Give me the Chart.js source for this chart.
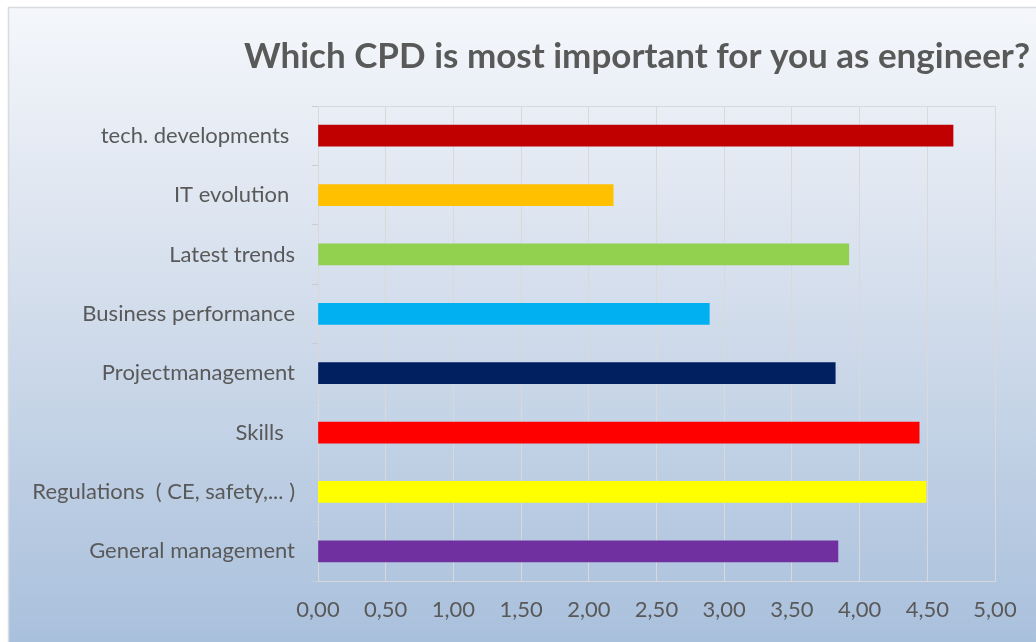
<!DOCTYPE html>
<html>
<head>
<meta charset="utf-8">
<script src="https://cdn.jsdelivr.net/npm/chart.js@4/dist/chart.umd.min.js"></script>
<style>
html,body{margin:0;padding:0;background:#ffffff;}
#wrap{position:relative;width:1036px;height:642px;}
</style>
</head>
<body>
<div id="wrap"><canvas id="c" width="1036" height="642"></canvas></div>
<script>
const titleText = "Which CPD is most important for you as engineer?";
const categories = [
  "tech. developments ",
  "IT evolution ",
  "Latest trends",
  "Business performance",
  "Projectmanagement",
  "Skills  ",
  "Regulations  ( CE, safety,... )",
  "General management"
];
const values = [4.69, 2.18, 3.92, 2.89, 3.82, 4.44, 4.49, 3.84];
const barColors = ["#C00000", "#FFC000", "#92D050", "#00B0F0", "#002060", "#FF0000", "#FFFF00", "#7030A0"];
const xTicks = ["0,00","0,50","1,00","1,50","2,00","2,50","3,00","3,50","4,00","4,50","5,00"];

const FONT = "Lato, 'Open Sans', sans-serif";
const TEXT = "#595959";

const bgPlugin = {
  id: 'bg',
  beforeDraw(chart) {
    const ctx = chart.ctx;
    ctx.save();
    ctx.fillStyle = '#ffffff';
    ctx.fillRect(0, 0, chart.width, chart.height);
    const g = ctx.createLinearGradient(0, 7, 0, chart.height);
    g.addColorStop(0, '#f5f7fb');
    g.addColorStop(0.45, '#d4deec');
    g.addColorStop(1, '#a9c0dc');
    ctx.fillStyle = g;
    ctx.fillRect(8, 7, chart.width - 8, chart.height - 7);
    ctx.strokeStyle = '#d8dbe0';
    ctx.lineWidth = 1.5;
    ctx.beginPath();
    ctx.moveTo(8.5, chart.height);
    ctx.lineTo(8.5, 7.5);
    ctx.lineTo(chart.width, 7.5);
    ctx.stroke();
    ctx.restore();
  },
  afterDraw(chart) {
    const ctx = chart.ctx;
    const a = chart.chartArea;
    ctx.save();
    ctx.strokeStyle = '#d9d9d9';
    ctx.lineWidth = 1;
    ctx.beginPath();
    ctx.moveTo(a.left, a.top + 0.5);
    ctx.lineTo(a.right, a.top + 0.5);
    ctx.stroke();
    ctx.fillStyle = TEXT;
    ctx.font = "bold 35px " + FONT;
    ctx.textAlign = 'right';
    ctx.textBaseline = 'middle';
    ctx.fillText(titleText, 1030, 57);
    ctx.restore();
  }
};

new Chart(document.getElementById('c'), {
  type: 'bar',
  data: {
    labels: categories,
    datasets: [{
      data: values,
      backgroundColor: barColors,
      borderWidth: 0,
      barThickness: 21
    }]
  },
  plugins: [bgPlugin],
  options: {
    responsive: false,
    animation: false,
    indexAxis: 'y',
    layout: { padding: { top: 106, left: 0, right: 0, bottom: 0 } },
    plugins: {
      legend: { display: false },
      title: { display: false },
      tooltip: { enabled: false }
    },
    scales: {
      x: {
        min: 0,
        max: 5,
        afterBuildTicks(scale) {
          scale.ticks = xTicks.map((t, i) => ({ value: i * 0.5 }));
        },
        afterFit(scale) {
          scale.height = 642 - 581;
          scale.paddingRight = 41;
        },
        ticks: {
          color: TEXT,
          font: { family: FONT, size: 22 },
          padding: 16,
          callback: (v, i) => xTicks[i]
        },
        grid: { color: '#d9d9d9', drawTicks: false },
        border: { display: true, color: '#d9d9d9' }
      },
      y: {
        afterFit(scale) {
          scale.width = 318;
        },
        ticks: {
          color: TEXT,
          font: { family: FONT, size: 22 },
          padding: 17
        },
        grid: { drawOnChartArea: false, drawTicks: true, tickLength: 6, color: '#c9ced6', offset: true },
        border: { display: true, color: '#d9d9d9' }
      }
    }
  }
});
</script>
</body>
</html>
